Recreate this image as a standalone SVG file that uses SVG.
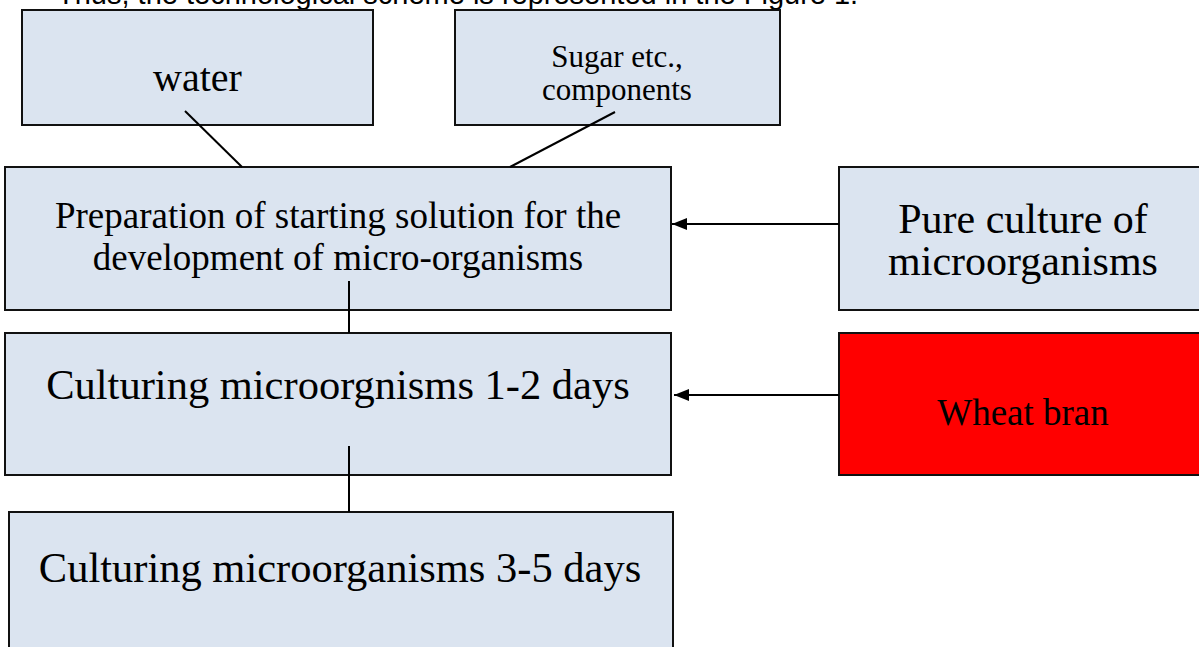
<svg xmlns="http://www.w3.org/2000/svg" width="1199" height="647" viewBox="0 0 1199 647">
<style>
.box{fill:#dbe4f0;stroke:#111;stroke-width:2}
.red{fill:#ff0000;stroke:#111;stroke-width:2}
.t{font-family:"Liberation Serif","Times New Roman",serif;fill:#000;text-anchor:middle}
.ln{stroke:#000;stroke-width:2;fill:none}
</style>
<defs>
<marker id="ah" markerWidth="16" markerHeight="12" refX="15" refY="6" orient="auto" markerUnits="userSpaceOnUse">
<path d="M0,0 L15,6 L0,12 Z" fill="#000"/>
</marker>
</defs>
<rect width="1199" height="647" fill="#fff"/>
<text x="57" y="4" font-family="'Liberation Sans',Arial,sans-serif" font-size="29" fill="#000">Thus, the technological scheme is represented in the Figure 1.</text>
<g id="water"><rect class="box" x="22" y="10" width="351" height="115"/><text class="t" x="197.5" y="91" font-size="40">water</text></g>
<g id="sugar"><rect class="box" x="455" y="10" width="325" height="115"/><text class="t" x="617" y="67" font-size="31">Sugar etc.,</text><text class="t" x="617" y="100" font-size="31">components</text></g>
<g id="preparation"><rect class="box" x="5" y="167" width="666" height="143"/><text class="t" x="338" y="228" font-size="37">Preparation of starting solution for the</text><text class="t" x="338" y="270" font-size="37">development of micro-organisms</text></g>
<g id="pure-culture"><rect class="box" x="839" y="167" width="370" height="143"/><text class="t" x="1023" y="233" font-size="42">Pure culture of</text><text class="t" x="1023" y="275" font-size="42">microorganisms</text></g>
<g id="culturing-1-2"><rect class="box" x="5" y="333" width="666" height="142"/><text class="t" x="338" y="399" font-size="42.5">Culturing microorgnisms 1-2 days</text></g>
<g id="wheat-bran"><rect class="red" x="839" y="333" width="370" height="142"/><text class="t" x="1023" y="425" font-size="37">Wheat bran</text></g>
<g id="culturing-3-5"><rect class="box" x="9" y="512" width="664" height="150"/><text class="t" x="340" y="582" font-size="42.5">Culturing microorganisms 3-5 days</text></g>
<g id="connectors">
<line class="ln" x1="185" y1="111" x2="242" y2="167"/>
<line class="ln" x1="615" y1="112" x2="510" y2="167"/>
<line class="ln" x1="839" y1="224" x2="672" y2="224" marker-end="url(#ah)"/>
<line class="ln" x1="839" y1="395" x2="674" y2="395" marker-end="url(#ah)"/>
<line class="ln" x1="349" y1="281" x2="349" y2="333"/>
<line class="ln" x1="349" y1="446" x2="349" y2="512"/>
</g>
</svg>
